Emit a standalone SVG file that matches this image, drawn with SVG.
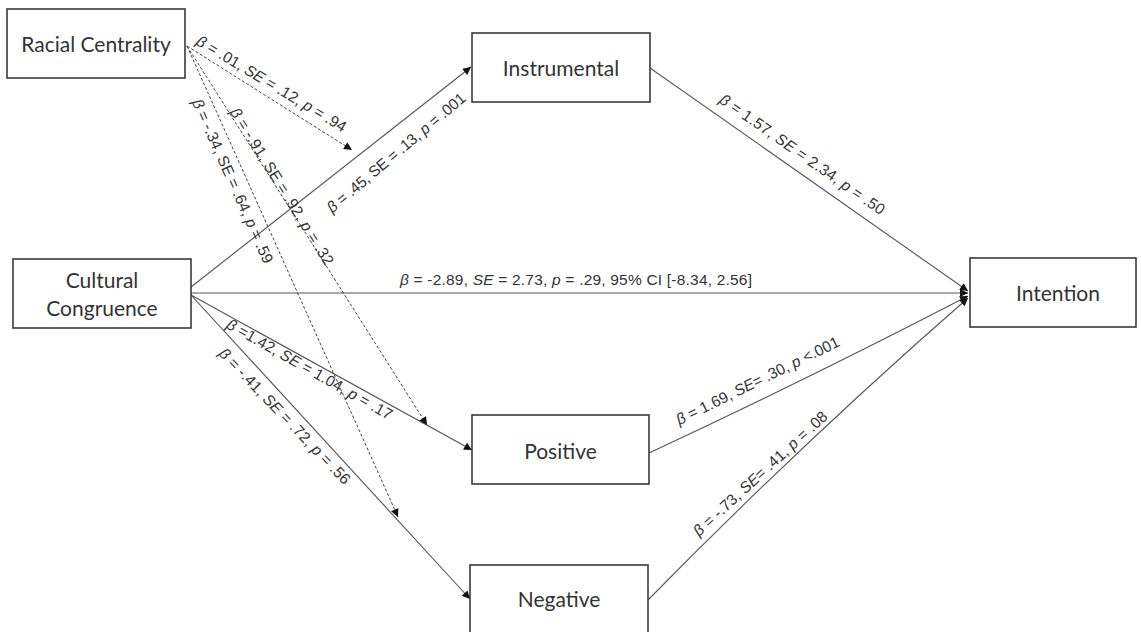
<svg xmlns="http://www.w3.org/2000/svg" width="1141" height="632" viewBox="0 0 1141 632">
  <style>
    .box { fill: #ffffff; stroke: #3a3a3a; stroke-width: 1.6; }
    .node-label { font-family: Lato, "Open Sans", "Liberation Sans", sans-serif; font-size: 21px; fill: #333333; text-anchor: middle; }
    .edge { fill: none; stroke: #555555; stroke-width: 1.1; }
    .dash { fill: none; stroke: #444444; stroke-width: 1; stroke-dasharray: 3 2; }
    .coef { font-family: "Liberation Sans", Arial, sans-serif; font-size: 15.5px; fill: #333333; }
    .i { font-style: italic; }
  </style>
  <defs>
    <marker id="arrow" viewBox="0 0 10 10" refX="10" refY="5" markerWidth="9" markerHeight="8" markerUnits="userSpaceOnUse" orient="auto">
      <path d="M0,0 L10,5 L0,10 z" fill="#111111"/>
    </marker>
  </defs>

  <rect width="1141" height="632" fill="#ffffff"/>

  <!-- paths between constructs -->
  <g id="connectors">
    <!-- direct effects from Cultural Congruence -->
    <line class="edge" x1="191" y1="287" x2="471" y2="67" marker-end="url(#arrow)"/>
    <line class="edge" x1="191" y1="293" x2="968" y2="293" marker-end="url(#arrow)"/>
    <line class="edge" x1="191" y1="295" x2="472" y2="450" marker-end="url(#arrow)"/>
    <line class="edge" x1="191" y1="295" x2="470" y2="599" marker-end="url(#arrow)"/>
    <!-- mediators to Intention -->
    <line class="edge" x1="650" y1="68" x2="968" y2="291" marker-end="url(#arrow)"/>
    <path class="edge" d="M649,453 Q812,377 968,296" marker-end="url(#arrow)"/>
    <path class="edge" d="M648,600 Q802,443 968,298" marker-end="url(#arrow)"/>
    <!-- moderation paths from Racial Centrality -->
    <line class="dash" x1="187" y1="46" x2="352" y2="150" marker-end="url(#arrow)"/>
    <line class="dash" x1="187" y1="46" x2="427" y2="425" marker-end="url(#arrow)"/>
    <line class="dash" x1="187" y1="46" x2="398" y2="517" marker-end="url(#arrow)"/>

    <!-- coefficients -->
    <text class="coef" transform="translate(195,44) rotate(31)" textLength="172"><tspan class="i">β</tspan> = .01, <tspan class="i">SE</tspan> = .12, <tspan class="i">p</tspan> = .94</text>
    <text class="coef" transform="translate(191.7,102.1) rotate(66)" textLength="178"><tspan class="i">β</tspan> = -.34, SE = .64, <tspan class="i">p</tspan> = .59</text>
    <text class="coef" transform="translate(229.6,111.9) rotate(58.2)" textLength="182"><tspan class="i">β</tspan> = -.91, SE = .92, <tspan class="i">p</tspan> = .32</text>
    <text class="coef" transform="translate(332.3,213.6) rotate(-40.2)" textLength="176"><tspan class="i">β</tspan> = .45, SE = .13, <tspan class="i">p</tspan> = .001</text>
    <text class="coef" x="400" y="285" textLength="352"><tspan class="i">β</tspan> = -2.89, <tspan class="i">SE</tspan> = 2.73, <tspan class="i">p</tspan> = .29, 95% CI [-8.34, 2.56]</text>
    <text class="coef" transform="translate(718.2,102) rotate(35)" textLength="198"><tspan class="i">β</tspan> = 1.57, <tspan class="i">SE</tspan> = 2.34, <tspan class="i">p</tspan> = .50</text>
    <text class="coef" transform="translate(679.3,425.3) rotate(-26.3)" textLength="180"><tspan class="i">β</tspan> = 1.69, <tspan class="i">SE</tspan>= .30, <tspan class="i">p</tspan> &lt;.001</text>
    <text class="coef" transform="translate(699.1,537) rotate(-42.6)" textLength="176"><tspan class="i">β</tspan> = -.73, <tspan class="i">SE</tspan>= .41, <tspan class="i">p</tspan> = .08</text>
    <text class="coef" transform="translate(225.2,327.4) rotate(29.6)" textLength="188"><tspan class="i">β</tspan> =1.42, <tspan class="i">SE</tspan> = 1.04, <tspan class="i">p</tspan> = .17</text>
    <text class="coef" transform="translate(218,354.2) rotate(46.2)" textLength="182"><tspan class="i">β</tspan> = -.41, <tspan class="i">SE</tspan> = .72, <tspan class="i">p</tspan> = .56</text>
  </g>

  <g id="racial-centrality">
    <rect class="box" x="7" y="9" width="178" height="69"/>
    <text class="node-label" x="96" y="52">Racial Centrality</text>
  </g>

  <g id="cultural-congruence">
    <rect class="box" x="13" y="259" width="178" height="69"/>
    <text class="node-label" x="102" y="288">Cultural</text>
    <text class="node-label" x="102" y="316">Congruence</text>
  </g>

  <g id="instrumental">
    <rect class="box" x="472" y="33" width="178" height="69"/>
    <text class="node-label" x="561" y="76">Instrumental</text>
  </g>

  <g id="positive">
    <rect class="box" x="472" y="415" width="177" height="69"/>
    <text class="node-label" x="560.5" y="459">Positive</text>
  </g>

  <g id="negative">
    <rect class="box" x="470" y="565" width="178" height="80"/>
    <text class="node-label" x="559" y="607">Negative</text>
  </g>

  <g id="intention">
    <rect class="box" x="970" y="258" width="166" height="69"/>
    <text class="node-label" x="1058" y="301">Intention</text>
  </g>
</svg>
